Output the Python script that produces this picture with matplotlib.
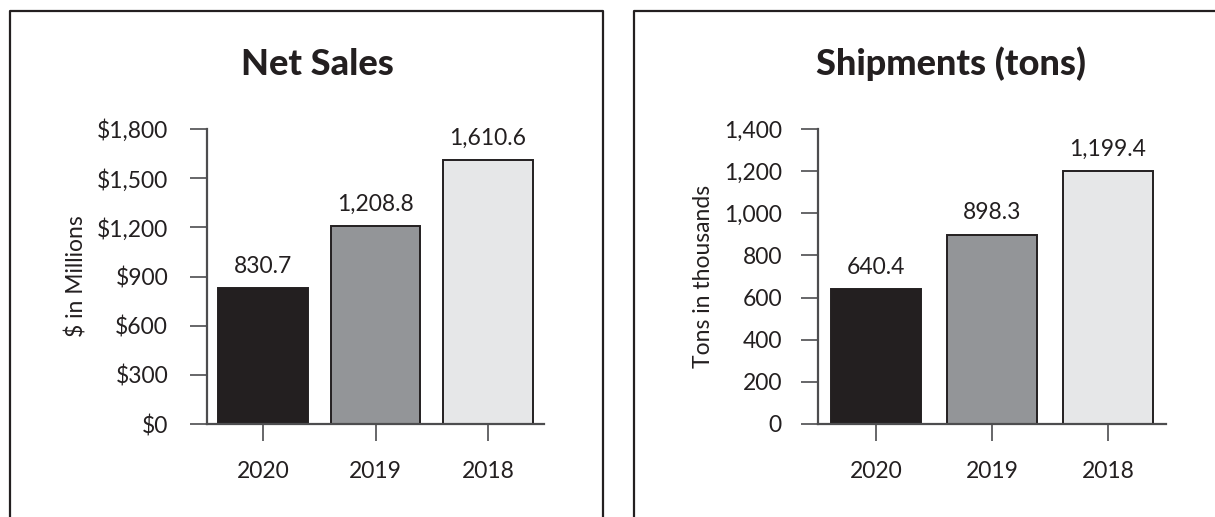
import matplotlib.pyplot as plt
from matplotlib.lines import Line2D
from matplotlib.ticker import FuncFormatter

plt.rcParams['font.family'] = ['Lato', 'DejaVu Sans']

# ---- data ----
years = ["2020", "2019", "2018"]
net_sales = [830.7, 1208.8, 1610.6]          # $ in millions
shipments = [640.4, 898.3, 1199.4]           # tons in thousands

sales_ticks = [0, 300, 600, 900, 1200, 1500, 1800]
ship_ticks = [0, 200, 400, 600, 800, 1000, 1200, 1400]

bar_colors = ["#231f20", "#939598", "#e6e7e8"]
INK = "#231f20"
AXIS = "#4d4d4f"
FS = 16.5

W, H = 1215, 517
fig = plt.figure(figsize=(W / 100, H / 100), dpi=100)


def px_box(x0, y0, x1, y1):
    # pixel box (top-left origin) -> figure fraction [left, bottom, width, height]
    return [x0 / W, 1 - y1 / H, (x1 - x0) / W, (y1 - y0) / H]


def panel(rect, values, ticks, fmt, ylabel, title, title_xy, ylabel_x, width, ypad):
    ax = fig.add_axes(px_box(*rect))
    x = range(len(values))
    ax.bar(x, values, width=width, color=bar_colors, edgecolor=INK, linewidth=1.4, zorder=2)
    for xi, v in zip(x, values):
        ax.annotate(f"{v:,.1f}", (xi, v), xytext=(0, 11), textcoords="offset points",
                    ha="center", va="baseline", fontsize=FS, color=INK)
    ax.set_xlim(-0.5, 2.5)
    ax.set_ylim(0, ticks[-1])
    ax.set_yticks(ticks)
    ax.yaxis.set_major_formatter(FuncFormatter(fmt))
    ax.set_xticks(list(x))
    ax.set_xticklabels(years)
    for s in ("top", "right"):
        ax.spines[s].set_visible(False)
    for s in ("left", "bottom"):
        ax.spines[s].set_color(AXIS)
        ax.spines[s].set_linewidth(1.6)
    ax.tick_params(axis="y", length=12, width=1.2, color=AXIS, pad=ypad,
                   labelsize=FS, labelcolor=INK)
    ax.tick_params(axis="x", length=12, width=1.2, color=AXIS, pad=15,
                   labelsize=FS, labelcolor=INK)
    ax.set_ylabel(ylabel, fontsize=FS, color=INK)
    ax.yaxis.set_label_coords((ylabel_x - rect[0]) / (rect[2] - rect[0]), 0.5)
    fig.text(title_xy[0] / W, 1 - title_xy[1] / H, title, ha="center", va="baseline",
             fontsize=26, fontweight="black", color=INK)
    return ax


panel((207, 129, 544, 424), net_sales, sales_ticks, lambda v, p: f"${v:,.0f}",
      "$ in Millions", "Net Sales", (317, 75), 88, 0.80, 16)
panel((818, 129, 1166, 424), shipments, ship_ticks, lambda v, p: f"{v:,.0f}",
      "Tons in thousands", "Shipments (tons)", (951, 75), 714, 0.78, 14)

# panel frames (bottom edge runs past the page)
def frame(x0, x1, y0=11):
    pts = [(x0, H + 5), (x0, y0), (x1, y0), (x1, H + 5)]
    xs = [p[0] / W for p in pts]
    ys = [1 - p[1] / H for p in pts]
    fig.add_artist(Line2D(xs, ys, color=INK, linewidth=1.6, transform=fig.transFigure))

frame(10, 603)
frame(634, 1222)

fig.savefig("out.png", dpi=100)
